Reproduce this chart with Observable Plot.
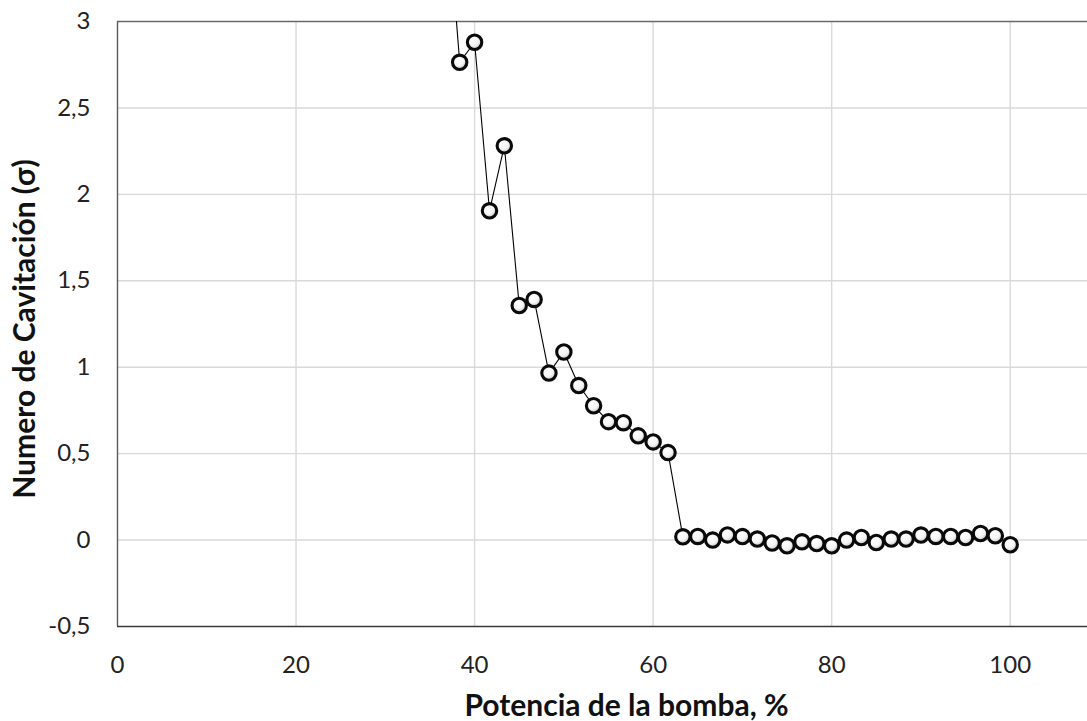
<!DOCTYPE html>
<html>
<head>
<meta charset="utf-8">
<script src="https://cdn.jsdelivr.net/npm/d3@7"></script>
<script src="https://cdn.jsdelivr.net/npm/@observablehq/plot@0.6"></script>
<style>
  html, body { margin: 0; padding: 0; background: #fff; }
  #wrap { width: 1087px; height: 721px; overflow: hidden; }
  #wrap svg { max-width: none !important; }
</style>
</head>
<body>
<div id="wrap"></div>
<script>
// Data
const potencia = [36.67, 38.33, 40, 41.67, 43.33, 45, 46.67, 48.33, 50, 51.67, 53.33, 55, 56.67, 58.33, 60, 61.67,
  63.33, 65, 66.67, 68.33, 70, 71.67, 73.33, 75, 76.67, 78.33, 80, 81.67, 83.33, 85, 86.67, 88.33, 90, 91.67, 93.33, 95, 96.67, 98.33, 100];
const sigma = [3.85, 2.764, 2.88, 1.905, 2.281, 1.357, 1.392, 0.966, 1.088, 0.894, 0.777, 0.685, 0.679, 0.603, 0.568, 0.506,
  0.019, 0.021, 0.0, 0.03, 0.02, 0.006, -0.017, -0.033, -0.01, -0.02, -0.033, 0.0, 0.015, -0.014, 0.006, 0.006, 0.029, 0.021, 0.021, 0.015, 0.038, 0.025, -0.027];
const xTicks = [0, 20, 40, 60, 80, 100];
const yTicks = [-0.5, 0, 0.5, 1, 1.5, 2, 2.5, 3];
const xTitle = "Potencia de la bomba, %";
const yTitle = "Numero de Cavitación (σ)";

const data = potencia.map((p, i) => ({p, s: sigma[i]}));
const fmt = d => String(d).replace(".", ",");

const chart = Plot.plot({
  width: 1099,
  height: 721,
  marginLeft: 117,
  marginRight: 0,
  marginTop: 21,
  marginBottom: 95,
  style: {fontFamily: "Lato, sans-serif", fontSize: "24px", background: "#fff", color: "#222", maxWidth: "none"},
  x: {domain: [0, 110], axis: null},
  y: {domain: [-0.5, 3], axis: null},
  marks: [
    Plot.ruleY(yTicks.filter(d => d > -0.5 && d < 3), {stroke: "#d9d9d9", strokeWidth: 1.4}),
    Plot.ruleX(xTicks.filter(d => d > 0), {stroke: "#d9d9d9", strokeWidth: 1.4}),
    Plot.ruleY([3], {stroke: "#6a6a6a", strokeWidth: 1.4}),
    Plot.ruleY([-0.5], {stroke: "#3a3a3a", strokeWidth: 1.4}),
    Plot.ruleX([0], {stroke: "#5a5a5a", strokeWidth: 1.4}),
    Plot.axisY({ticks: yTicks, tickSize: 0, tickPadding: 27, tickFormat: fmt, fontSize: 24, fill: "#222", label: null}),
    Plot.axisX({ticks: xTicks, tickSize: 0, tickPadding: 29, tickFormat: fmt, fontSize: 24, fill: "#222", label: null}),
    Plot.line(data, {x: "p", y: "s", stroke: "#000", strokeWidth: 1.1, clip: true}),
    Plot.dot(data, {x: "p", y: "s", r: 7.2, fill: "white", stroke: "#0a0a0a", strokeWidth: 3.1, clip: true}),
    Plot.text([xTitle], {frameAnchor: "bottom", dy: 80, dx: 18, text: d => d, textAnchor: "middle", lineAnchor: "middle", fontSize: 30, fontWeight: "bold", fill: "#111"}),
    Plot.text([yTitle], {frameAnchor: "left", dx: -92, dy: 5, rotate: -90, text: d => d, textAnchor: "middle", lineAnchor: "middle", fontSize: 30, fontWeight: "bold", fill: "#111"})
  ]
});

// Excel-like shaded marker fill
const svg = d3.select(chart);
const defs = svg.insert("defs", ":first-child");
const g = defs.append("radialGradient").attr("id", "mk").attr("cx", "40%").attr("cy", "35%").attr("r", "70%");
g.append("stop").attr("offset", "0%").attr("stop-color", "#ffffff");
g.append("stop").attr("offset", "55%").attr("stop-color", "#f4f4f4");
g.append("stop").attr("offset", "100%").attr("stop-color", "#b8b8b8");
svg.selectAll("circle").attr("fill", "url(#mk)");

document.getElementById("wrap").appendChild(chart);
</script>
</body>
</html>
